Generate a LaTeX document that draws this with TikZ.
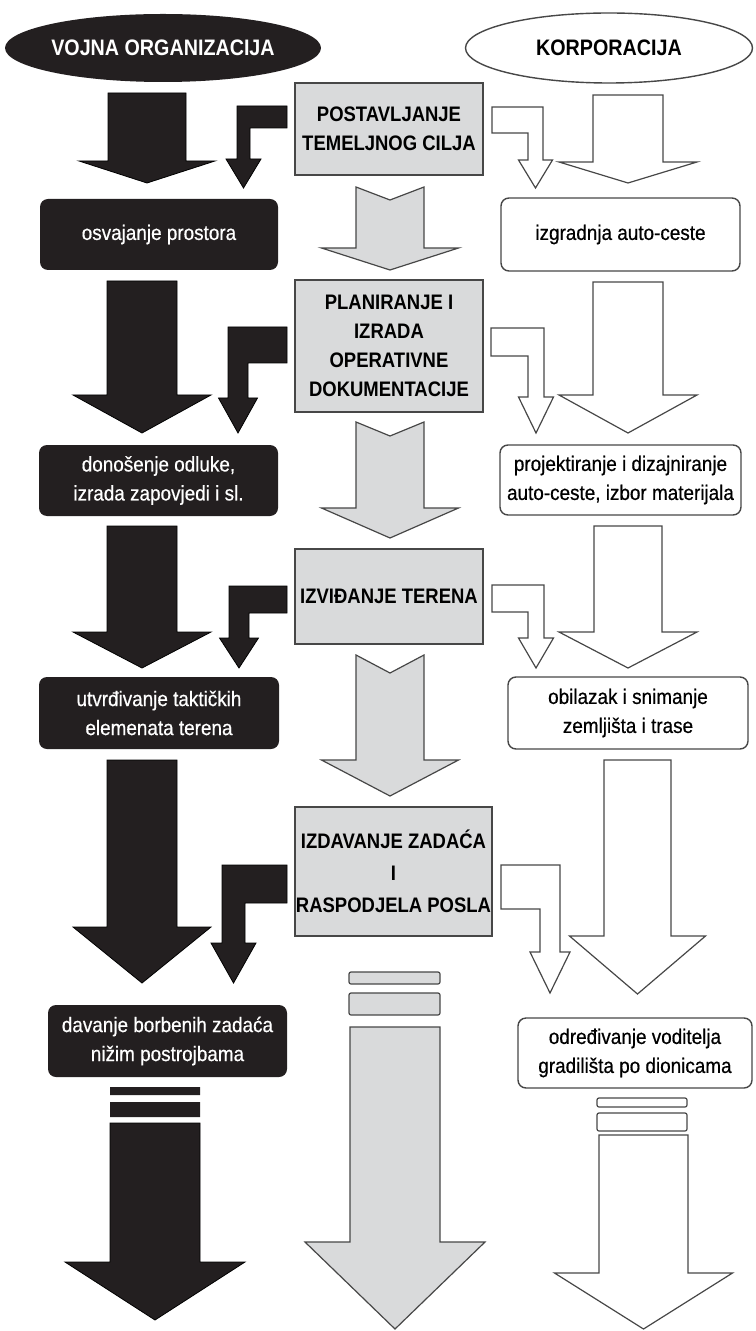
\documentclass[tikz,border=0pt]{standalone}
\usepackage{fontspec}
\setmainfont{Liberation Sans}[UprightFeatures={FakeStretch=0.9, FakeBold=0.5},
  BoldFeatures={FakeStretch=0.88}]
\usetikzlibrary{shapes.geometric}
\definecolor{army black}{HTML}{231F20}
\definecolor{stage gray}{HTML}{D9DADB}
\colorlet{frame edge}{black!72}
\newcommand{\boxfont}{\fontsize{10.5}{14.5}\selectfont}
% #1 style, #2 centre x, #3 top, #4 head top, #5 tip, #6 half shaft, #7 half head, #8 notch
\newcommand{\bigarrow}[8][]{%
  \draw[#1] ({#2-#6},#3) -- (#2,{#3+#8}) -- ({#2+#6},#3) -- ({#2+#6},#4) -- ({#2+#7},#4)
    -- (#2,#5) -- ({#2-#7},#4) -- ({#2-#6},#4) -- cycle;}
% #1 style, #2 box end, #3/#4 bar top/bottom, #5 outer x, #6 inner x, #7 head top, #8 half head, #9 tip
\newcommand{\elbowarrow}[9][]{%
  \draw[#1] (#2,#3) -- (#5,#3) -- (#5,#7) -- ({(#5+#6)/2+(#5-#6)/abs(#5-#6)*#8},#7)
    -- ({(#5+#6)/2},#9) -- ({(#5+#6)/2-(#5-#6)/abs(#5-#6)*#8},#7) -- (#6,#7) -- (#6,#4)
    -- (#2,#4) -- cycle;}
\tikzset{
  armybox/.style={fill=army black, text=white, rounded corners=4pt, align=center,
    inner sep=0pt, font=\boxfont},
  firmbox/.style={draw=frame edge, fill=white, line width=0.7pt, rounded corners=4pt,
    align=center, inner sep=0pt, font=\boxfont},
  stagebox/.style={draw=frame edge, fill=stage gray, line width=0.7pt, align=center,
    inner sep=0pt, font=\boxfont\bfseries},
  armyhead/.style={ellipse, fill=army black, text=white, inner sep=0pt,
    font=\fontsize{11.2}{13}\selectfont\bfseries},
  firmhead/.style={ellipse, draw=frame edge, fill=white, line width=0.7pt, inner sep=0pt,
    font=\fontsize{11.2}{13}\selectfont\bfseries},
  armyarrow/.style={fill=army black},
  stagearrow/.style={draw=frame edge, fill=stage gray, line width=0.6pt},
  firmarrow/.style={draw=frame edge, fill=white, line width=0.6pt},
  cutbar/.style={rounded corners=1pt}
}

\begin{document}
\begin{tikzpicture}[x=0.5pt, y=-0.5pt]
    \useasboundingbox (0,0) rectangle (755,1331);

    \node[armyhead, minimum width=150pt, minimum height=34pt] (army) at (163,48) {VOJNA ORGANIZACIJA};
    \node[firmhead, minimum width=143.5pt, minimum height=35pt] (firm) at (609,48) {KORPORACIJA};

    \node[stagebox, minimum width=94pt, minimum height=46pt] (goal) at (389,129)
      {POSTAVLJANJE\\TEMELJNOG CILJA};
    \node[stagebox, minimum width=94pt, minimum height=66pt] (plan) at (389,346)
      {PLANIRANJE I\\IZRADA\\OPERATIVNE\\DOKUMENTACIJE};
    \node[stagebox, minimum width=94pt, minimum height=47.5pt] (recon) at (389,596.5)
      {IZVIĐANJE TERENA};
    \node[stagebox, minimum width=98.5pt, minimum height=64.5pt] (tasks) at (393.5,871.5)
      {IZDAVANJE ZADAĆA\\[1.5pt]I\\[1.5pt]RASPODJELA POSLA};

    \node[armybox, minimum width=119pt, minimum height=35.5pt] (seize) at (159,234.5)
      {osvajanje prostora};
    \node[armybox, minimum width=119.5pt, minimum height=35.5pt] (decide) at (158.5,480.5)
      {donošenje odluke,\\izrada zapovjedi i sl.};
    \node[armybox, minimum width=120pt, minimum height=36pt] (terrain) at (159,713)
      {utvrđivanje taktičkih\\elemenata terena};
    \node[armybox, minimum width=119.5pt, minimum height=36pt] (orders) at (167.5,1041)
      {davanje borbenih zadaća\\nižim postrojbama};

    \node[firmbox, minimum width=119.5pt, minimum height=36.5pt] (build) at (620.5,234.5)
      {izgradnja auto-ceste};
    \node[firmbox, minimum width=120.5pt, minimum height=35pt] (design) at (620.5,480)
      {projektiranje i dizajniranje\\auto-ceste, izbor materijala};
    \node[firmbox, minimum width=120pt, minimum height=36pt] (survey) at (628,713)
      {obilazak i snimanje\\zemljišta i trase};
    \node[firmbox, minimum width=117pt, minimum height=35pt] (sites) at (635,1053)
      {određivanje voditelja\\gradilišta po dionicama};

    \bigarrow[armyarrow]{147}{93}{161}{183}{39}{68}{0}
    \bigarrow[armyarrow]{142}{281}{395}{433}{35}{69}{0}
    \bigarrow[armyarrow]{142}{526}{632}{668}{35}{69}{0}
    \bigarrow[armyarrow]{142}{760}{927}{983}{35}{69}{0}
    \fill[army black] (110,1087) rectangle (200,1095) (110,1102) rectangle (200,1117);
    \bigarrow[armyarrow]{155}{1123}{1262}{1320}{45}{90}{0}

    \elbowarrow[armyarrow]{287}{106}{128}{237}{250}{159}{17.5}{188}
    \elbowarrow[armyarrow]{287}{327}{363}{228}{248}{398}{19.5}{433}
    \elbowarrow[armyarrow]{287}{586}{613}{229}{249}{638}{19.5}{668}
    \elbowarrow[armyarrow]{287}{865}{903}{222}{245}{943}{22.5}{983}

    \bigarrow[stagearrow]{390}{187}{248}{270}{34}{68.5}{13}
    \bigarrow[stagearrow]{390}{422}{508}{538}{34}{68.5}{14}
    \bigarrow[stagearrow]{390}{655}{760}{796}{34}{68.5}{18}
    \draw[stagearrow, cutbar] (349,972) rectangle (440,984) (349,993) rectangle (440,1015);
    \bigarrow[stagearrow]{395}{1027}{1242}{1329}{45}{90}{0}

    \elbowarrow[firmarrow]{492}{107}{133}{543}{528}{160}{17}{188}
    \elbowarrow[firmarrow]{491}{328}{356}{544}{528}{397}{17.5}{433}
    \elbowarrow[firmarrow]{492}{585}{612}{544}{528}{638}{17.5}{668}
    \elbowarrow[firmarrow]{501}{865}{909}{560}{540}{952}{20}{993}

    \bigarrow[firmarrow]{628}{95}{162}{183}{35}{69}{0}
    \bigarrow[firmarrow]{628}{282}{395}{433}{35}{69}{0}
    \bigarrow[firmarrow]{628}{526}{632}{668}{34}{69}{0}
    \bigarrow[firmarrow]{637.5}{760}{936}{994}{33.5}{68}{0}
    \draw[firmarrow, cutbar] (597,1098) rectangle (687,1107) (597,1113) rectangle (687,1131);
    \bigarrow[firmarrow]{643.5}{1135}{1273}{1329}{44.5}{89}{0}
\end{tikzpicture}
\end{document}
